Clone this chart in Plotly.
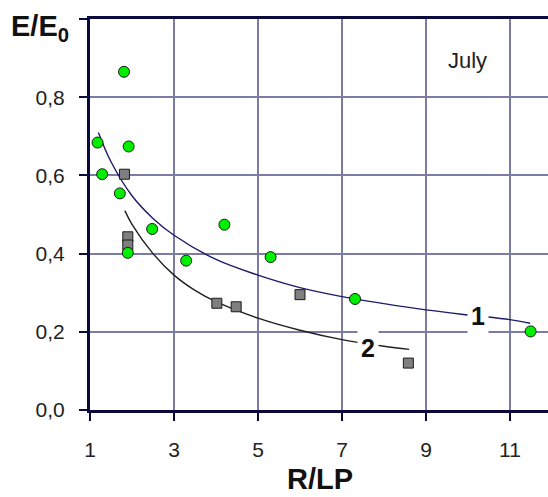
import plotly.graph_objects as go

# Data
green_x = [1.18, 1.81, 1.92, 1.29, 1.71, 1.90, 2.48, 3.29, 4.20, 5.30, 7.31, 11.49]
green_y = [0.684, 0.865, 0.674, 0.603, 0.554, 0.402, 0.463, 0.382, 0.474, 0.391, 0.284, 0.201]

gray_x = [1.82, 1.90, 1.90, 4.02, 4.48, 6.00, 8.58]
gray_y = [0.603, 0.443, 0.422, 0.273, 0.264, 0.295, 0.120]

curve1_x = [1.2, 1.5, 2.0, 2.5, 3.0, 4.0, 5.0, 6.0, 7.0, 8.0, 9.0, 10.0, 11.0, 11.48]
curve1_y = [0.71, 0.635, 0.548, 0.49, 0.447, 0.385, 0.345, 0.313, 0.29, 0.272, 0.256, 0.243, 0.231, 0.222]

curve2_x = [1.83, 2.0, 2.5, 3.0, 3.5, 4.0, 5.0, 6.0, 7.0, 8.0, 8.6]
curve2_y = [0.51, 0.475, 0.40, 0.345, 0.306, 0.277, 0.235, 0.204, 0.18, 0.163, 0.155]

x_ticks = [1, 3, 5, 7, 9, 11]
y_ticks = [0.0, 0.2, 0.4, 0.6, 0.8, 1.0]
y_tick_text = ["0,0", "0,2", "0,4", "0,6", "0,8", ""]

NAVY = "#0a0a3c"
GRID = "#7b7ba6"
FONT = "Liberation Sans, Arial, sans-serif"

W, H = 548, 497
L, T, B, R = 90, 19, 87, 0
PW, PH = W - L - R, H - T - B


def px_x(p):
    return (p - L) / PW


def px_y(p):
    return (H - B - p) / PH


fig = go.Figure()
fig.add_trace(go.Scatter(x=curve1_x, y=curve1_y, mode="lines",
                         line=dict(color="#1c1c6a", width=1.4, shape="spline"), hoverinfo="skip"))
fig.add_trace(go.Scatter(x=curve2_x, y=curve2_y, mode="lines",
                         line=dict(color="#202020", width=1.4, shape="spline"), hoverinfo="skip"))
fig.add_trace(go.Scatter(x=gray_x, y=gray_y, mode="markers",
                         marker=dict(symbol="square", size=10, color="#7f7f7f",
                                     line=dict(color="#1a1a1a", width=1))))
fig.add_trace(go.Scatter(x=green_x, y=green_y, mode="markers",
                         marker=dict(symbol="circle", size=11, color="#00ee00",
                                     line=dict(color="#102010", width=1))))

fig.add_annotation(x=10.24, y=0.241, text="<b>1</b>", showarrow=False, bgcolor="white", borderpad=3,
                   font=dict(family=FONT, size=25, color="#111111"))
fig.add_annotation(x=7.62, y=0.159, text="<b>2</b>", showarrow=False, bgcolor="white", borderpad=3,
                   font=dict(family=FONT, size=25, color="#111111"))
fig.add_annotation(x=px_x(467), y=px_y(61), xref="paper", yref="paper", text="July", showarrow=False,
                   xanchor="center", yanchor="middle",
                   font=dict(family=FONT, size=22, color="#222222"))
fig.add_annotation(x=px_x(71), y=px_y(28), xref="paper", yref="paper", text="<b>E/E<sub>0</sub></b>",
                   showarrow=False, xanchor="right", yanchor="middle",
                   font=dict(family=FONT, size=29, color="#111111"))
fig.add_annotation(x=px_x(320), y=px_y(497), xref="paper", yref="paper", text="<b>R/LP</b>",
                   showarrow=False, xanchor="center", yanchor="bottom",
                   font=dict(family=FONT, size=29, color="#111111"))

fig.update_layout(
    width=W, height=H, margin=dict(l=L, r=R, t=T, b=B),
    paper_bgcolor="white", plot_bgcolor="white", showlegend=False,
    font=dict(family=FONT, size=21, color="#222222"),
    xaxis=dict(range=[1, 1 + PW / 42.0], tickvals=x_ticks, ticktext=[str(v) for v in x_ticks],
               showgrid=True, gridcolor=GRID, gridwidth=1.5, zeroline=False,
               showline=True, linecolor=NAVY, linewidth=3, mirror=True,
               ticks="outside", ticklen=8, tickwidth=2, tickcolor=NAVY,
               tickfont=dict(size=21, color="#222222"), ticklabelstandoff=11),
    yaxis=dict(range=[0, 1.0], tickvals=y_ticks, ticktext=y_tick_text,
               showgrid=True, gridcolor=GRID, gridwidth=1.5, zeroline=False,
               showline=True, linecolor=NAVY, linewidth=3,
               ticks="outside", ticklen=8, tickwidth=2, tickcolor=NAVY,
               tickfont=dict(size=21, color="#222222"), ticklabelstandoff=10),
)

fig.write_html("out.html")
